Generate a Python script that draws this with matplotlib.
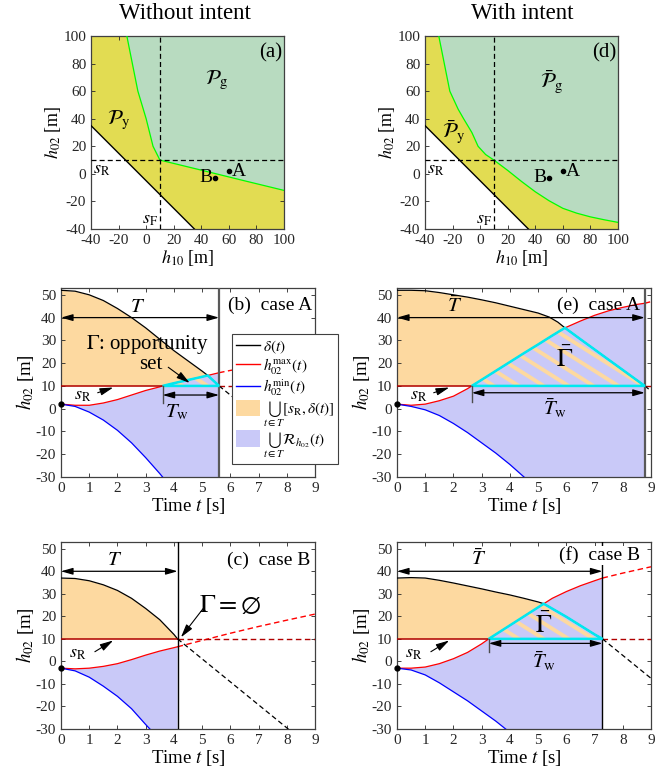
import numpy as np
import matplotlib
matplotlib.use('Agg')
import matplotlib.pyplot as plt
from matplotlib.patches import Polygon, Patch
from matplotlib.lines import Line2D

plt.rcParams['font.family'] = ['Liberation Serif', 'DejaVu Serif']
plt.rcParams['mathtext.fontset'] = 'stix'
plt.rcParams['axes.unicode_minus'] = False
plt.rcParams['xtick.direction'] = 'in'
plt.rcParams['ytick.direction'] = 'in'
plt.rcParams['xtick.top'] = True
plt.rcParams['ytick.right'] = True
plt.rcParams['font.size'] = 10.5

ORANGE = '#fdd9a0'
BLUE = '#c9c9f8'
YELLOW = '#e2dc52'
GREEN = '#b8dbc0'
CYAN = '#00e8f0'
DRED = '#b00000'

s_R = 10
s_F = 10

# ---- top row: regions in (h10, h02) ----
bound_h10 = [-40, 35]
bound_h02 = [35, -40]
ga_h10 = [-14, -10, -6, 0, 5, 10, 40, 70, 100]
ga_h02 = [100, 80, 60, 40, 20, 10, 2.7, -4.7, -12]
gd_h10 = [-30, -26, -22, -16, -12, -6, -1.5, 4, 10, 20, 30, 40, 50, 60, 70, 80, 90, 100]
gd_h02 = [100, 80, 60, 47, 40, 30, 20, 14, 10, 2.5, -5.5, -13, -19.5, -25, -28.5, -31.2, -33.3, -35.2]
pt_A = (60, 2)
pt_B = (50, -3)

# ---- (b) case A, without intent ----
b_t_d = [0, 0.5, 1, 1.5, 2, 2.5, 3, 3.5, 4, 4.5, 5, 5.2, 5.6]
b_d = [52, 51.6, 50, 47.5, 44, 40, 35.5, 30.5, 25.5, 21, 16.5, 14.6, 10]
b_t_r = [0, 0.5, 1, 1.5, 2, 2.5, 3, 3.5, 3.6, 4, 4.5, 5, 5.2, 5.6]
b_r = [2, 1.5, 1.5, 2.5, 4, 6, 8, 9.6, 10, 11.2, 12.6, 14, 14.6, 15.8]
b_t_b = [0, 0.5, 1, 1.5, 2, 2.5, 3, 3.5, 3.6, 3.7]
b_b = [2, 1, -1.5, -5, -9.5, -15, -21.5, -28.5, -30, -31.5]
b_t_rx = [5.6, 6, 7, 8, 9]
b_rx = [15.8, 16.8, 19, 21, 23]
b_t_dx = [5.6, 9]
b_dx = [10, -24]
b_T, b_tw, b_tx = 5.6, 3.6, 5.2

# ---- (c) case B, without intent ----
c_t_d = [0, 0.5, 1, 1.5, 2, 2.5, 3, 3.5, 4, 4.13]
c_d = [37, 36.8, 35.8, 34, 31.5, 28, 23.5, 18.5, 12, 10]
c_t_r = [0, 0.5, 1, 1.5, 2, 2.5, 3, 3.5, 4, 4.13]
c_r = [-3, -3.3, -3, -2.2, -1, 0.8, 2.8, 4.6, 6.1, 6.5]
c_t_b = [0, 0.5, 1, 1.5, 2, 2.5, 3, 3.15, 3.25]
c_b = [-3, -4.2, -7, -11, -15.5, -21, -28, -30, -31.5]
c_t_rx = [4.13, 5, 6, 7, 8, 9]
c_rx = [6.5, 9.3, 12.5, 15.5, 18.3, 21]
c_t_dx = [4.13, 8.1]
c_dx = [10, -30.5]
c_T = 4.13

# ---- (e) case A, with intent ----
e_t_d = [0, 0.5, 1, 1.5, 2, 2.5, 3, 3.5, 4, 4.5, 5, 5.4, 5.7, 5.95, 6.5, 7, 7.5, 8, 8.5, 8.78]
e_d = [52, 52, 51.8, 51, 50, 49, 47.8, 46.5, 45, 43.5, 42, 40.2, 38, 35.5, 30.5, 26, 21.5, 17, 12.5, 10]
e_t_r = [0, 0.5, 1, 1.5, 2, 2.5, 2.65, 3, 3.5, 4, 4.5, 5, 5.5, 5.95, 6.5, 7, 7.5, 8, 8.5, 8.78]
e_r = [2, 1.5, 2, 3.5, 5.5, 8.8, 10, 12.7, 16.6, 20.5, 24.4, 28.2, 32.1, 35.5, 38.5, 41, 43, 44.5, 45.8, 46.3]
e_t_b = [0, 0.5, 1, 1.5, 2, 2.5, 3, 3.5, 4, 4.5, 4.6]
e_b = [2, 1, -0.5, -3, -6.5, -10.5, -15, -19.5, -24.5, -30, -31]
e_t_rx = [8.78, 9]
e_rx = [46.3, 47]
e_t_dx = [8.78, 9]
e_dx = [10, 7.8]
e_T, e_tw, e_tx = 8.78, 2.65, 5.95

# ---- (f) case B, with intent ----
f_t_d = [0, 0.5, 1, 1.5, 2, 2.5, 3, 3.5, 4, 4.5, 5, 5.2, 6, 7, 7.28]
f_d = [37, 37.2, 37, 36, 34.8, 33.5, 32.2, 30.8, 29.5, 28, 26.4, 25.6, 19.8, 12, 10]
f_t_r = [0, 0.5, 1, 1.5, 2, 2.5, 3, 3.25, 3.5, 4, 4.5, 5, 5.2, 5.5, 6, 6.5, 7, 7.28]
f_r = [-3, -3, -2.5, -1, 1.2, 4, 7.8, 10, 12, 16, 20, 24, 25.6, 28, 31, 33.6, 35.8, 37]
f_t_b = [0, 0.5, 1, 1.5, 2, 2.5, 3, 3.5, 3.85, 4]
f_b = [-3, -3.8, -6, -9.5, -13.5, -17.5, -22, -26.5, -30, -31.5]
f_t_rx = [7.28, 8, 9]
f_rx = [37, 39.2, 42]
f_t_dx = [7.28, 9]
f_dx = [10, -7.5]
f_T, f_tw, f_tx = 7.28, 3.25, 5.2

W, H = 671, 777
fig = plt.figure(figsize=(W / 100, H / 100), dpi=100)


def px_axes(l, t, r, b):
    return fig.add_axes([l / W, 1 - b / H, (r - l) / W, (b - t) / H])


def style(ax):
    for sp in ax.spines.values():
        sp.set_color('0.25')
        sp.set_linewidth(0.9)
    ax.tick_params(length=3, width=0.6, colors='0.15', labelsize=11)


def region_panel(ax, gx, gy, tag, lab_y, lab_g):
    ax.set_xlim(-40, 100)
    ax.set_ylim(-40, 100)
    ax.fill([bound_h10[0], bound_h10[1], 100, 100, -40],
            [bound_h02[0], bound_h02[1], -40, 100, 100], color=YELLOW, lw=0, zorder=1)
    ax.fill(list(gx) + [100], list(gy) + [100], color=GREEN, lw=0, zorder=2)
    ax.plot(gx, gy, color='#00ff00', lw=0.9, zorder=3)
    ax.plot(bound_h10, bound_h02, color='k', lw=1, zorder=3)
    ax.axhline(s_R, color='k', ls=(0, (4, 2.5)), lw=0.9, zorder=4)
    ax.axvline(s_F, color='k', ls=(0, (4, 2.5)), lw=0.9, zorder=4)
    ax.plot(*pt_A, 'k.', ms=6, zorder=5)
    ax.plot(*pt_B, 'k.', ms=6, zorder=5)
    ax.text(pt_A[0] + 2, pt_A[1], 'A', fontsize=14, va='center', ha='left')
    ax.text(pt_B[0] - 2, pt_B[1], 'B', fontsize=14, va='center', ha='right')
    ax.text(90, 88, tag, fontsize=15, ha='center', va='center')
    ax.text(lab_y[0], lab_y[1], lab_y[2], fontsize=15, ha='center', va='center')
    ax.text(lab_g[0], lab_g[1], lab_g[2], fontsize=15, ha='center', va='center')
    ax.text(-32, 3, r'$s_\mathrm{R}$', fontsize=13, ha='center', va='center')
    ax.text(3, -33, r'$s_\mathrm{F}$', fontsize=13, ha='center', va='center')
    ax.set_xticks(np.arange(-40, 101, 20))
    ax.set_yticks(np.arange(-40, 101, 20))
    ax.set_xlabel(r'$h_{10}$ [m]', fontsize=13, labelpad=1)
    ax.set_ylabel(r'$h_{02}$ [m]', fontsize=13, labelpad=0)
    style(ax)


def stripes(ax, patch):
    k = 0.85
    for off in np.arange(-1.6, 1.6, 0.098):
        ln, = ax.plot([off, off + 1.2], [1, 1 - 1.2 * k], transform=ax.transAxes,
                      color=ORANGE, lw=2.8, solid_capstyle='butt', zorder=4)
        ln.set_clip_path(patch)


def time_panel(ax, t_d, d, t_r, r, t_b, b, t_rx, rx, t_dx, dx, T, tw=None, tx=None,
               tline='k', tlw=1.0):
    t_d, d, t_r, r = np.array(t_d), np.array(d), np.array(t_r), np.array(r)
    t_b, b = np.array(t_b), np.array(b)
    ax.set_xlim(0, 9)
    ax.set_ylim(-30, 53)
    ax.fill_between(t_d, s_R, d, color=ORANGE, lw=0, zorder=1)
    ax.fill(np.r_[t_r, T, t_b[::-1]], np.r_[r, -40, b[::-1]], color=BLUE, lw=0, zorder=2)
    if tw is not None:
        m1 = (t_r >= tw) & (t_r <= tx)
        m2 = (t_d > tx) & (t_d <= T)
        gx = np.r_[t_r[m1], t_d[m2]]
        gy = np.r_[r[m1], d[m2]]
        poly = Polygon(np.c_[gx, gy], closed=True, facecolor=BLUE, edgecolor='none', zorder=3)
        ax.add_patch(poly)
        stripes(ax, poly)
        ax.add_patch(Polygon(np.c_[gx, gy], closed=True, fill=False, edgecolor=CYAN,
                             lw=1.8, zorder=7))
    ax.plot(t_d, d, color='k', lw=0.9, zorder=5)
    ax.plot(t_r, r, color='red', lw=0.9, zorder=5)
    ax.plot(t_b, b, color='blue', lw=0.9, zorder=5)
    ax.plot([0, T], [s_R, s_R], color=DRED, lw=1.1, zorder=5)
    ax.plot(t_rx, rx, color='red', lw=1, ls=(0, (4, 2.5)), zorder=5)
    ax.plot([T, 9], [s_R, s_R], color=DRED, lw=1, ls=(0, (4, 2.5)), zorder=5)
    ax.plot(t_dx, dx, color='k', lw=0.9, ls=(0, (4, 2.5)), zorder=5)
    ax.axvline(T, color=tline, lw=tlw, zorder=6)
    ax.plot(0, r[0], 'k.', ms=7, zorder=8, clip_on=False)
    ax.set_xticks(np.arange(0, 10, 1))
    ax.set_yticks(np.arange(-30, 51, 10))
    ax.set_xlabel(r'Time $t$ [s]', fontsize=13.5, labelpad=1)
    ax.set_ylabel(r'$h_{02}$ [m]', fontsize=13.5, labelpad=0)
    style(ax)


def arrow(ax, x0, y0, x1, y1):
    ax.annotate('', xy=(x1, y1), xytext=(x0, y0),
                arrowprops=dict(arrowstyle='-|>,head_length=0.8,head_width=0.22',
                                color='k', lw=0.8, shrinkA=0, shrinkB=0, mutation_scale=10),
                zorder=9)


def darrow(ax, x0, x1, y):
    ax.annotate('', xy=(x1, y), xytext=(x0, y),
                arrowprops=dict(arrowstyle='<|-|>,head_length=0.7,head_width=0.2',
                                color='k', lw=0.9, shrinkA=0, shrinkB=0, mutation_scale=10),
                zorder=9)


def sr_label(ax, x, y, x0, y0):
    ax.text(x, y, r'$s_\mathrm{R}$', fontsize=13, ha='center', va='center', zorder=9)
    arrow(ax, x0, y0, 1.85, 9.3)


box = dict(facecolor='white', edgecolor='none', pad=0.5)

# ---- top row ----
ax_a = px_axes(91, 36, 284, 229)
region_panel(ax_a, ga_h10, ga_h02, '(a)',
             (-20, 39, r'$\mathcal{P}_\mathrm{y}$'), (51, 68, r'$\mathcal{P}_\mathrm{g}$'))
ax_d = px_axes(425, 36, 618, 229)
region_panel(ax_d, gd_h10, gd_h02, '(d)',
             (-19.5, 31, r'$\bar{\mathcal{P}}_\mathrm{y}$'), (52, 67, r'$\bar{\mathcal{P}}_\mathrm{g}$'))
fig.text(0.276, 0.982, 'Without intent', fontsize=16.5, ha='center', va='center')
fig.text(0.778, 0.982, 'With intent', fontsize=16.5, ha='center', va='center')

# ---- (b) ----
ax_b = px_axes(61, 288, 315, 477)
time_panel(ax_b, b_t_d, b_d, b_t_r, b_r, b_t_b, b_b, b_t_rx, b_rx, b_t_dx, b_dx,
           b_T, b_tw, b_tx, tline='0.35', tlw=1.6)
darrow(ax_b, 0, b_T, 40)
ax_b.text(2.7, 44.5, r'$T$', fontsize=15, ha='center', va='center')
darrow(ax_b, b_tw, b_T, 6)
ax_b.plot([b_tw, b_tw], [2.5, 10], color='0.3', lw=1, zorder=9)
ax_b.text(4.1, -1.5, r'$T_\mathrm{w}$', fontsize=15, ha='center', va='center')
ax_b.text(3.05, 28, r'$\Gamma$: opportunity', fontsize=15, ha='center', va='center')
ax_b.text(3.2, 19.5, 'set', fontsize=15, ha='center', va='center')
arrow(ax_b, 3.8, 18.2, 4.56, 11.3)
sr_label(ax_b, 0.75, 6, 1.3, 7)
ax_b.text(8.9, 45.5, '(b)  case A', fontsize=14, ha='right', va='center', zorder=10)

# ---- (c) ----
ax_c = px_axes(61, 542, 315, 729)
time_panel(ax_c, c_t_d, c_d, c_t_r, c_r, c_t_b, c_b, c_t_rx, c_rx, c_t_dx, c_dx, c_T)
darrow(ax_c, 0, c_T, 40)
ax_c.text(1.9, 45, r'$T$', fontsize=15, ha='center', va='center')
ax_c.text(6.0, 25, r'$\Gamma = \emptyset$', fontsize=19, ha='center', va='center')
arrow(ax_c, 5.07, 24, 4.25, 10.7)
sr_label(ax_c, 0.6, 3.5, 1.2, 4.3)
ax_c.text(8.85, 44.8, '(c)  case B', fontsize=14, ha='right', va='center', zorder=10)

# ---- (e) ----
ax_e = px_axes(397, 288, 651, 477)
time_panel(ax_e, e_t_d, e_d, e_t_r, e_r, e_t_b, e_b, e_t_rx, e_rx, e_t_dx, e_dx,
           e_T, e_tw, e_tx, tline='0.35', tlw=1.6)
darrow(ax_e, 0, e_T, 40)
ax_e.text(2.05, 45, r'$\bar{T}$', fontsize=15, ha='center', va='center')
darrow(ax_e, e_tw, e_T, 7)
ax_e.plot([e_tw, e_tw], [3, 10], color='0.3', lw=1, zorder=9)
ax_e.text(5.6, 0, r'$\bar{T}_\mathrm{w}$', fontsize=15, ha='center', va='center')
ax_e.text(5.95, 21.5, r'$\bar{\Gamma}$', fontsize=19, ha='center', va='center', zorder=10)
sr_label(ax_e, 0.75, 6, 1.3, 7)
ax_e.text(8.6, 45.5, '(e)  case A', fontsize=14, ha='right', va='center', zorder=10)

# ---- (f) ----
ax_f = px_axes(397, 542, 651, 729)
time_panel(ax_f, f_t_d, f_d, f_t_r, f_r, f_t_b, f_b, f_t_rx, f_rx, f_t_dx, f_dx,
           f_T, f_tw, f_tx)
darrow(ax_f, 0, f_T, 40)
ax_f.text(2.9, 45, r'$\bar{T}$', fontsize=15, ha='center', va='center')
darrow(ax_f, f_tw, f_T, 8)
ax_f.plot([f_tw, f_tw], [4, 10], color='0.3', lw=1, zorder=9)
ax_f.text(5.2, 0, r'$\bar{T}_\mathrm{w}$', fontsize=15, ha='center', va='center')
ax_f.text(5.2, 16, r'$\bar{\Gamma}$', fontsize=19, ha='center', va='center', zorder=10)
sr_label(ax_f, 0.6, 3.5, 1.2, 4.3)
ax_f.text(8.6, 47, '(f)  case B', fontsize=14, ha='right', va='center', zorder=10, bbox=box)

# ---- legend in (b) ----
handles = [Line2D([], [], color='k', lw=1),
           Line2D([], [], color='red', lw=1),
           Line2D([], [], color='blue', lw=1),
           Patch(facecolor=ORANGE, edgecolor='none'),
           Patch(facecolor=BLUE, edgecolor='none')]
labels = [r'$\delta(t)$', r'$h_{02}^{\max}(t)$', r'$h_{02}^{\min}(t)$',
          r'$\bigcup_{t\in T}[s_\mathrm{R},\delta(t)]$',
          r'$\bigcup_{t\in T}\mathcal{R}_{h_{02}}(t)$']
leg = ax_b.legend(handles, labels, loc='upper left', bbox_to_anchor=(232 / W, 1 - 334 / H),
                  bbox_transform=fig.transFigure, fontsize=11, frameon=True, fancybox=False,
                  edgecolor='0.25', framealpha=1, borderpad=0.25, handlelength=1.6,
                  handleheight=1.3, handletextpad=0.15, labelspacing=0.05, borderaxespad=0)
leg.get_frame().set_linewidth(0.8)
leg.set_zorder(20)

fig.savefig('out.png', dpi=100)
